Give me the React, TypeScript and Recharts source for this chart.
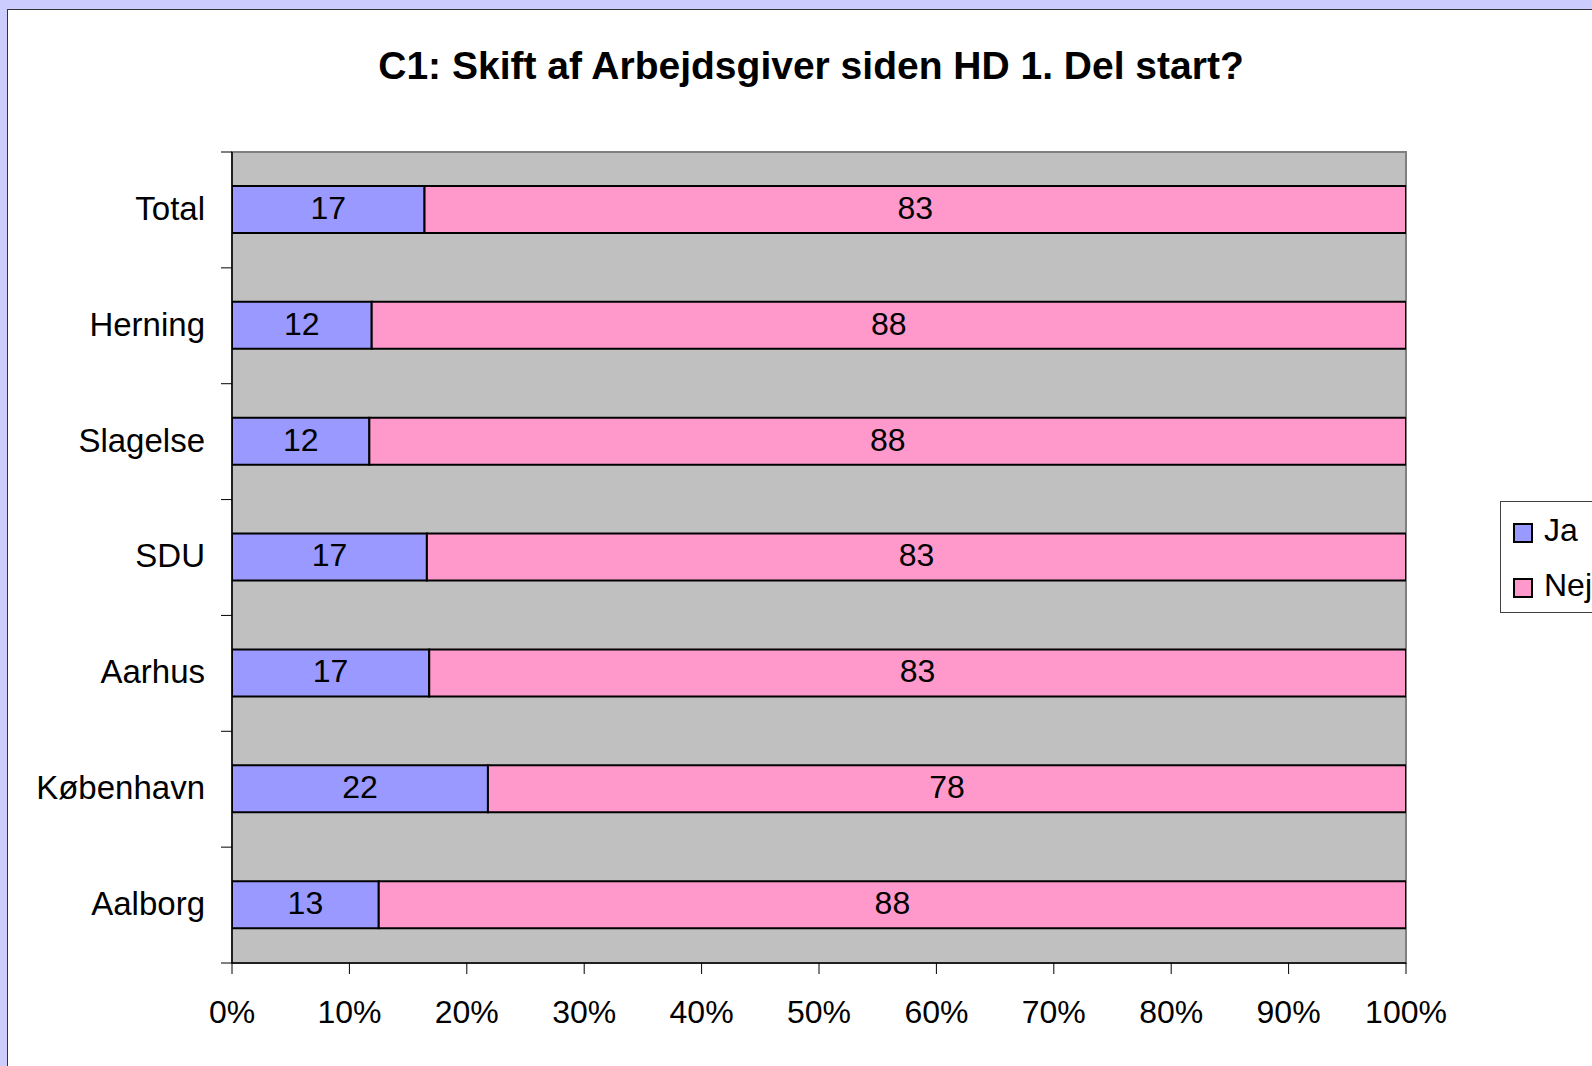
import { Bar, BarChart, CartesianGrid, LabelList, Legend, ReferenceArea, XAxis, YAxis } from 'recharts'

const categories = ['Total', 'Herning', 'Slagelse', 'SDU', 'Aarhus', 'København', 'Aalborg']
const jaPct = [16.4, 11.9, 11.7, 16.6, 16.8, 21.8, 12.5]
const nejPct = [83.6, 88.1, 88.3, 83.4, 83.2, 78.2, 87.5]
const jaLabels = [17, 12, 12, 17, 17, 22, 13]
const nejLabels = [83, 88, 88, 83, 83, 78, 88]
const xTicks = [0, 10, 20, 30, 40, 50, 60, 70, 80, 90, 100]

const data = categories.map((navn, i) => ({
  navn,
  ja: jaPct[i],
  nej: nejPct[i],
  jaLabel: jaLabels[i],
  nejLabel: nejLabels[i],
}))

const FONT = '"Liberation Sans", Arial, sans-serif'
const TICK = 11
const TICK_MARGIN = 16

// kategori-label + tick-streg på grænsen mellem bånd (som i Excel)
function CatTick(props: any) {
  const { x, y, payload, index } = props
  const off = payload?.offset ?? 0
  const ax = x + TICK + TICK_MARGIN
  return (
    <g>
      <text x={x} y={y} dy="0.3em" textAnchor="end" fontSize={33} fill="#000" fontFamily={FONT}>
        {payload.value}
      </text>
      <line x1={ax - TICK} x2={ax} y1={y - off} y2={y - off} stroke="#000" />
      {index === categories.length - 1 && (
        <line x1={ax - TICK} x2={ax} y1={y + off} y2={y + off} stroke="#000" />
      )}
    </g>
  )
}

function LegendBox({ payload }: any) {
  return (
    <div
      style={{
        border: '1px solid #404040',
        background: '#fff',
        width: 140,
        height: 112,
        paddingTop: 1,
        boxSizing: 'border-box',
        fontFamily: FONT,
      }}
    >
      {(payload || []).map((p: any) => (
        <div key={p.value} style={{ height: 55, display: 'flex', alignItems: 'center', paddingLeft: 12 }}>
          <span
            style={{
              display: 'inline-block',
              width: 16,
              height: 16,
              background: p.color,
              border: '2px solid #000',
              marginRight: 11,
              marginTop: 4,
            }}
          />
          <span style={{ fontSize: 32, color: '#000' }}>{p.value}</span>
        </div>
      ))}
    </div>
  )
}

export default function App() {
  return (
    <div
      style={{
        position: 'absolute',
        left: 0,
        top: 0,
        width: 1592,
        height: 1066,
        overflow: 'hidden',
        background: '#ccccff',
        fontFamily: FONT,
      }}
    >
      <div
        style={{
          position: 'absolute',
          left: 7,
          top: 9,
          width: 1700,
          height: 1200,
          background: '#fff',
          border: '1px solid #333',
        }}
      />
      <div
        style={{
          position: 'absolute',
          left: 0,
          top: 46,
          width: 1622,
          textAlign: 'center',
          fontWeight: 'bold',
          fontSize: 39,
          lineHeight: '39px',
          color: '#000',
        }}
      >
        C1: Skift af Arbejdsgiver siden HD 1. Del start?
      </div>
      <div style={{ position: 'absolute', left: 0, top: 0 }}>
        <BarChart
          width={1592}
          height={1066}
          data={data}
          layout="vertical"
          margin={{ top: 152, right: 186, bottom: 43, left: 32 }}
          style={{ fontFamily: FONT }}
        >
          <CartesianGrid horizontal={false} vertical={false} fill="#c0c0c0" />
          <ReferenceArea
            yAxisId="cat"
            x1={0}
            x2={100}
            y1="Total"
            y2="Aalborg"
            fill="none"
            stroke="#808080"
            strokeWidth={2}
          />
          <YAxis
            yAxisId="cat"
            type="category"
            dataKey="navn"
            width={200}
            tickSize={TICK}
            tickMargin={TICK_MARGIN}
            tickLine={false}
            axisLine={{ stroke: '#000', strokeWidth: 1.5 }}
            tick={<CatTick />}
          />
          <XAxis
            type="number"
            domain={[0, 100]}
            ticks={xTicks}
            allowDataOverflow
            tickFormatter={(v) => `${v}%`}
            height={60}
            tickSize={TICK}
            tickMargin={26}
            axisLine={{ stroke: '#000', strokeWidth: 1.5 }}
            tickLine={{ stroke: '#000' }}
            tick={{ fill: '#000', fontSize: 32 }}
          />
          <Legend
            layout="horizontal"
            align="center"
            verticalAlign="middle"
            content={<LegendBox />}
            wrapperStyle={{ position: 'absolute', left: 1500, top: 501, width: 140 }}
          />
          <Bar
            yAxisId="cat"
            dataKey="ja"
            name="Ja"
            stackId="s"
            fill="#9999ff"
            stroke="#000"
            strokeWidth={2}
            barSize={47}
            isAnimationActive={false}
          >
            <LabelList dataKey="jaLabel" position="center" fill="#000" fontSize={32} dy={-2} />
          </Bar>
          <Bar
            yAxisId="cat"
            dataKey="nej"
            name="Nej"
            stackId="s"
            fill="#ff99cc"
            stroke="#000"
            strokeWidth={2}
            barSize={47}
            isAnimationActive={false}
          >
            <LabelList dataKey="nejLabel" position="center" fill="#000" fontSize={32} dy={-2} />
          </Bar>
        </BarChart>
      </div>
    </div>
  )
}
